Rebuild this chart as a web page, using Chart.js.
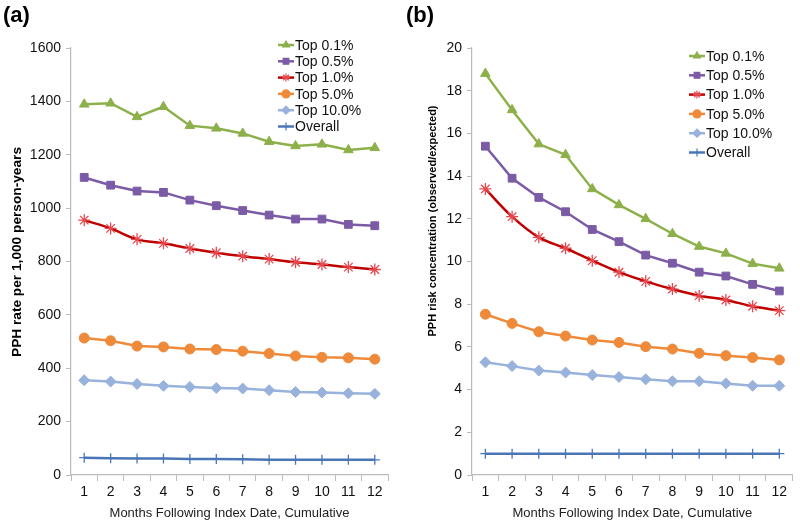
<!DOCTYPE html>
<html>
<head>
<meta charset="utf-8">
<script src="https://cdn.jsdelivr.net/npm/chart.js@4"></script>
<style>
  body { margin: 0; background: #fff; }
  #wrap { position: relative; width: 800px; height: 525px; font-family: "Liberation Sans", Arial, sans-serif; }
  .panel { position: absolute; top: 0; width: 400px; height: 525px; }
  .tag { position: absolute; top: 2px; font-weight: bold; font-size: 22px; color: #000; }
</style>
</head>
<body>
<div id="wrap">
  <div class="panel" style="left:0"><canvas id="chartA" width="400" height="525"></canvas></div>
  <div class="panel" style="left:400px"><canvas id="chartB" width="400" height="525"></canvas></div>
  <div class="tag" style="left:3px">(a)</div>
  <div class="tag" style="left:406px">(b)</div>
</div>
<script>
const months = ['1', '2', '3', '4', '5', '6', '7', '8', '9', '10', '11', '12'];
const seriesNames = ['Top 0.1%', 'Top 0.5%', 'Top 1.0%', 'Top 5.0%', 'Top 10.0%', 'Overall'];

// (a) PPH rate per 1,000 person-years
const rateTop01 = [1389, 1393, 1342, 1380, 1309, 1299, 1280, 1249, 1233, 1239, 1218, 1226];
const rateTop05 = [1115, 1086, 1064, 1059, 1030, 1009, 991, 974, 959, 959, 939, 934];
const rateTop1 = [955, 924, 883, 868, 849, 833, 820, 809, 797, 789, 779, 770];
const rateTop5 = [513, 503, 483, 480, 472, 470, 464, 455, 446, 441, 439, 434];
const rateTop10 = [355, 350, 341, 334, 330, 326, 324, 318, 311, 309, 306, 304];
const rateOverall = [65, 63, 62, 62, 60, 60, 59, 57, 57, 57, 57, 57];

// (b) PPH risk concentration (observed/expected)
const concTop01 = [18.8, 17.1, 15.5, 15.0, 13.4, 12.65, 12.0, 11.3, 10.7, 10.38, 9.9, 9.68];
const concTop05 = [15.4, 13.9, 13.0, 12.33, 11.5, 10.93, 10.3, 9.92, 9.5, 9.32, 8.93, 8.62];
const concTop1 = [13.4, 12.1, 11.13, 10.62, 10.04, 9.5, 9.07, 8.71, 8.4, 8.2, 7.9, 7.7];
const concTop5 = [7.53, 7.1, 6.71, 6.51, 6.32, 6.21, 6.01, 5.9, 5.7, 5.59, 5.5, 5.39];
const concTop10 = [5.28, 5.1, 4.89, 4.8, 4.68, 4.59, 4.48, 4.39, 4.39, 4.29, 4.18, 4.18];
const concOverall = [1, 1, 1, 1, 1, 1, 1, 1, 1, 1, 1, 1];

const styles = [
  { line: '#8db04a', fill: '#8db04a', point: 'triangle', r: 5.5, tension: 0 },
  { line: '#7b5ba6', fill: '#7b5ba6', point: 'rect', r: 5.5, tension: 0 },
  { line: '#c00000', fill: '#e5484d', point: 'star', r: 6, tension: 0.35 },
  { line: '#ee8a3a', fill: '#ee8a3a', point: 'circle', r: 5, tension: 0 },
  { line: '#98b2dc', fill: '#98b2dc', point: 'rectRot', r: 5.5, tension: 0 },
  { line: '#4a76b8', fill: '#4a76b8', point: 'cross', r: 5, tension: 0 }
];

function makeSets(arrays) {
  return arrays.map((vals, i) => ({
    label: seriesNames[i],
    data: vals,
    borderColor: styles[i].line,
    backgroundColor: styles[i].fill,
    pointBorderColor: i === 5 ? styles[i].line : styles[i].fill,
    pointBackgroundColor: styles[i].fill,
    pointStyle: styles[i].point,
    pointRadius: styles[i].r,
    pointBorderWidth: i === 2 || i === 5 ? 1.3 : 1,
    borderWidth: 2.5,
    tension: styles[i].tension
  }));
}

// legend drawn inside the plot area, Excel style
function legendPlugin(x0, y0, gap) {
  return {
    id: 'innerLegend',
    afterDraw(chart) {
      const ctx = chart.ctx;
      ctx.save();
      chart.data.datasets.forEach((ds, i) => {
        const y = y0 + i * gap;
        ctx.strokeStyle = ds.borderColor;
        ctx.lineWidth = 2.5;
        ctx.beginPath();
        ctx.moveTo(x0, y);
        ctx.lineTo(x0 + 16, y);
        ctx.stroke();
        ctx.fillStyle = ds.pointBackgroundColor;
        ctx.strokeStyle = ds.pointBorderColor;
        ctx.lineWidth = 1.2;
        Chart.helpers.drawPoint(ctx, { pointStyle: ds.pointStyle, radius: 4, rotation: 0, borderWidth: 1.2 }, x0 + 8, y);
        ctx.fillStyle = '#111';
        ctx.font = '14px "Liberation Sans", Arial, sans-serif';
        ctx.textBaseline = 'middle';
        ctx.fillText(ds.label, x0 + 17, y + 1);
      });
      ctx.restore();
    }
  };
}

// rotated y-axis title at a given centre
function yTitlePlugin(text, cx, cy, size) {
  return {
    id: 'yTitle',
    afterDraw(chart) {
      const ctx = chart.ctx;
      ctx.save();
      ctx.translate(cx, cy);
      ctx.rotate(-Math.PI / 2);
      ctx.fillStyle = '#000';
      ctx.font = 'bold ' + size + 'px "Liberation Sans", Arial, sans-serif';
      ctx.textAlign = 'center';
      ctx.textBaseline = 'middle';
      ctx.fillText(text, 0, 0);
      ctx.restore();
    }
  };
}

function makeChart(id, arrays, yMax, yStep, axisW, pad, plugins) {
  return new Chart(document.getElementById(id), {
    type: 'line',
    data: { labels: months, datasets: makeSets(arrays) },
    options: {
      responsive: false,
      animation: false,
      layout: { padding: { top: 48, right: pad, left: 0, bottom: 0 } },
      plugins: { legend: { display: false }, tooltip: { enabled: false } },
      scales: {
        x: {
          offset: true,
          grid: { drawOnChartArea: false, color: '#bbb', tickLength: 6, offset: true },
          border: { color: '#bbb', width: 1.2 },
          ticks: { color: '#111', font: { size: 14, family: '"Liberation Sans", Arial' }, padding: 3, maxRotation: 0 },
          title: { display: true, text: 'Months Following Index Date, Cumulative', color: '#222',
                   font: { size: 13, family: '"Liberation Sans", Arial' }, padding: { top: 6 } },
          afterFit(s) { s.height = 50; }
        },
        y: {
          min: 0, max: yMax,
          grid: { drawOnChartArea: false, color: '#bbb', tickLength: 5 },
          border: { color: '#bbb', width: 1.2 },
          ticks: { stepSize: yStep, color: '#111', font: { size: 14, family: '"Liberation Sans", Arial' }, padding: 5,
                   callback: v => String(v) },
          afterFit(s) { s.width = axisW; }
        }
      }
    },
    plugins: plugins
  });
}

makeChart('chartA',
  [rateTop01, rateTop05, rateTop1, rateTop5, rateTop10, rateOverall],
  1600, 200, 71, 12,
  [legendPlugin(278, 45, 16.3), yTitlePlugin('PPH rate per 1,000 person-years', 17, 252, 13.7)]);

makeChart('chartB',
  [concTop01, concTop05, concTop1, concTop5, concTop10, concOverall],
  20, 2, 72, 7,
  [legendPlugin(289, 56, 19.3), yTitlePlugin('PPH risk concentration (observed/expected)', 33, 221, 11)]);
</script>
</body>
</html>
